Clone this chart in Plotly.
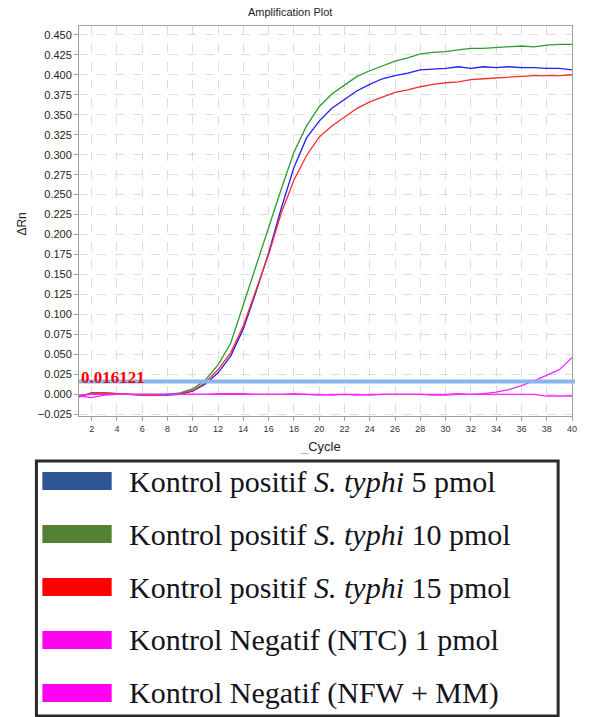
import plotly.graph_objects as go

cycles = [1, 2, 3, 4, 5, 6, 7, 8, 9, 10, 11, 12, 13, 14, 15, 16, 17, 18, 19, 20,
          21, 22, 23, 24, 25, 26, 27, 28, 29, 30, 31, 32, 33, 34, 35, 36, 37, 38, 39, 40]

pos_5pmol = [-0.003, 0.002, 0.002, 0.001, 0.000, -0.001, -0.001, -0.001, 0.000, 0.004,
             0.013, 0.027, 0.048, 0.082, 0.128, 0.177, 0.233, 0.284, 0.321, 0.342,
             0.358, 0.369, 0.380, 0.388, 0.395, 0.399, 0.402, 0.406, 0.407, 0.408,
             0.410, 0.408, 0.410, 0.409, 0.410, 0.409, 0.409, 0.408, 0.408, 0.406]

pos_10pmol = [-0.002, 0.001, 0.001, 0.001, 0.000, 0.000, 0.000, 0.000, 0.002, 0.007,
              0.018, 0.037, 0.064, 0.112, 0.160, 0.210, 0.257, 0.303, 0.336, 0.360,
              0.376, 0.387, 0.398, 0.405, 0.411, 0.417, 0.421, 0.426, 0.428, 0.429,
              0.431, 0.433, 0.433, 0.434, 0.435, 0.436, 0.435, 0.437, 0.438, 0.438]

pos_15pmol = [-0.003, 0.002, 0.002, 0.001, 0.000, -0.001, -0.001, 0.000, 0.001, 0.005,
              0.015, 0.031, 0.052, 0.086, 0.130, 0.175, 0.227, 0.268, 0.299, 0.322,
              0.336, 0.347, 0.358, 0.366, 0.372, 0.378, 0.381, 0.385, 0.388, 0.390,
              0.391, 0.394, 0.395, 0.396, 0.397, 0.398, 0.399, 0.399, 0.399, 0.400]

neg_ntc = [-0.002, -0.004, -0.001, 0.000, 0.000, 0.000, 0.000, 0.000, 0.000, 0.000,
           0.000, 0.001, 0.001, 0.001, 0.000, 0.000, 0.000, 0.001, 0.000, 0.000,
           -0.001, 0.000, -0.001, 0.000, 0.000, 0.000, 0.000, 0.000, -0.001, -0.001,
           0.000, 0.000, 0.001, 0.003, 0.006, 0.011, 0.017, 0.024, 0.031, 0.046]

neg_nfw = [-0.001, 0.000, 0.000, 0.000, 0.000, 0.000, 0.000, 0.000, 0.000, 0.000,
           0.000, 0.000, 0.000, 0.000, 0.000, 0.000, 0.000, 0.000, 0.000, -0.001,
           0.000, 0.000, 0.000, -0.001, 0.000, 0.000, 0.000, 0.000, 0.000, 0.000,
           0.001, 0.000, 0.000, 0.000, 0.000, 0.000, 0.000, -0.002, -0.002, -0.002]

threshold = 0.016121
threshold_label = "0.016121"

series_values = [pos_5pmol, pos_10pmol, pos_15pmol, neg_ntc, neg_nfw]
series_names = [
    "Kontrol positif <i>S. typhi</i> 5 pmol",
    "Kontrol positif <i>S. typhi</i> 10 pmol",
    "Kontrol positif <i>S. typhi</i> 15 pmol",
    "Kontrol Negatif (NTC) 1 pmol",
    "Kontrol Negatif (NFW + MM)",
]
line_colors = ["#1f1fff", "#2f9a2f", "#ff2a2a", "#ff22ff", "#ff22ff"]
swatch_colors = ["#2f5597", "#548235", "#ff0000", "#ff00f0", "#ff00f0"]

x_ticks = [2, 4, 6, 8, 10, 12, 14, 16, 18, 20, 22, 24, 26, 28, 30, 32, 34, 36, 38, 40]
y_ticks = [-0.025, 0.0, 0.025, 0.05, 0.075, 0.1, 0.125, 0.15, 0.175, 0.2, 0.225,
           0.25, 0.275, 0.3, 0.325, 0.35, 0.375, 0.4, 0.425, 0.45]

W, H = 589, 717
L, R, T, B = 79, 12, 26, 301
PW, PH = W - L - R, H - T - B


def px(xp):
    return (xp - L) / PW


def py(yp):
    return (H - B - yp) / PH


fig = go.Figure()
for vals, name, col in zip(series_values, series_names, line_colors):
    fig.add_trace(go.Scatter(x=cycles, y=vals, mode="lines", name=name,
                             line=dict(color=col, width=1.3), showlegend=False))

shapes = [
    dict(type="line", xref="paper", yref="y", x0=0, x1=1.006, y0=threshold, y1=threshold,
         line=dict(color="#86b6f0", width=4), layer="above"),
    dict(type="rect", xref="paper", yref="paper", x0=px(36), x1=px(563), y0=py(716), y1=py(461),
         line=dict(color="#2a2a2a", width=3), fillcolor="rgba(0,0,0,0)"),
]
annotations = [
    dict(text="Amplification Plot", xref="paper", yref="paper", x=px(292.5), y=py(12),
         xanchor="center", yanchor="middle",
         showarrow=False, font=dict(family="Liberation Sans", size=11, color="#222")),
    dict(text="ΔRn", xref="paper", yref="paper", x=px(21), y=py(224), textangle=-90,
         xanchor="center", yanchor="middle",
         showarrow=False, font=dict(family="Liberation Sans", size=12, color="#222")),
    dict(text="<span style='color:#aaa'>_</span>Cycle", xref="paper", yref="paper",
         x=px(323), y=py(446), xanchor="center", yanchor="middle", showarrow=False,
         font=dict(family="Liberation Sans", size=13, color="#222")),
    dict(text="<b>" + threshold_label + "</b>", xref="paper", yref="y", x=0, y=0.0215,
         xanchor="left", yanchor="middle", showarrow=False,
         font=dict(family="Liberation Serif", size=17, color="#ff0000")),
]

row_y = [481, 534, 587, 640, 693]
for i, (name, col) in enumerate(zip(series_names, swatch_colors)):
    cy = row_y[i]
    shapes.append(dict(type="rect", xref="paper", yref="paper", x0=px(42), x1=px(112),
                       y0=py(cy + 9), y1=py(cy - 9), fillcolor=col, line=dict(width=0)))
    annotations.append(dict(text=name, xref="paper", yref="paper", x=px(127), y=py(cy),
                            xanchor="left", yanchor="middle", showarrow=False,
                            font=dict(family="Liberation Serif", size=30, color="#141420")))

fig.update_layout(
    width=W, height=H, autosize=False,
    margin=dict(l=L, r=R, t=T, b=B, pad=0),
    paper_bgcolor="white", plot_bgcolor="white",
    font=dict(family="Liberation Sans", color="#222"),
    shapes=shapes, annotations=annotations,
    xaxis=dict(range=[1, 40], tickvals=x_ticks, ticktext=[str(v) for v in x_ticks],
               showgrid=True, gridcolor="#dcdcdc", griddash="dash", gridwidth=1,
               showline=True, linecolor="#a0a0a0", linewidth=1, mirror=True,
               ticks="outside", ticklen=4, tickcolor="#a0a0a0",
               tickfont=dict(size=9, color="#333"), zeroline=False),
    yaxis=dict(range=[-0.027, 0.461], tickvals=y_ticks, tickformat=".3f",
               showgrid=True, gridcolor="#dcdcdc", griddash="dash", gridwidth=1,
               showline=True, linecolor="#a0a0a0", linewidth=1, mirror=True,
               ticks="outside", ticklen=4, tickcolor="#a0a0a0",
               tickfont=dict(size=11, color="#222"), zeroline=False),
)

fig.write_html("out.html")
